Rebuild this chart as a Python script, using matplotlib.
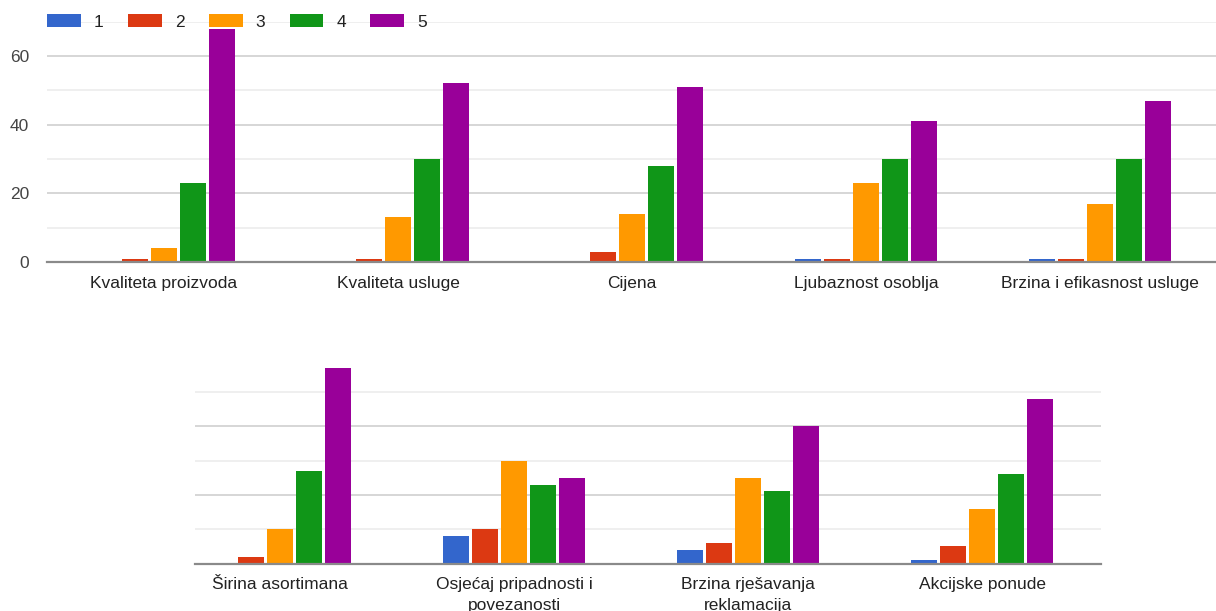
import numpy as np
import matplotlib
matplotlib.use("Agg")
import matplotlib.pyplot as plt
from matplotlib.patches import Patch

plt.rcParams["font.family"] = ["Liberation Sans", "DejaVu Sans"]

# ---- data ----
SERIES = ["1", "2", "3", "4", "5"]
COLORS = ["#3366cc", "#dc3912", "#ff9900", "#109618", "#990099"]

TOP_CATS = ["Kvaliteta proizvoda", "Kvaliteta usluge", "Cijena",
            "Ljubaznost osoblja", "Brzina i efikasnost usluge"]
top_1 = [0, 0, 0, 1, 1]
top_2 = [1, 1, 3, 1, 1]
top_3 = [4, 13, 14, 23, 17]
top_4 = [23, 30, 28, 30, 30]
top_5 = [68, 52, 51, 41, 47]

BOT_CATS = ["Širina asortimana", "Osjećaj pripadnosti i\npovezanosti",
            "Brzina rješavanja\nreklamacija", "Akcijske ponude"]
bot_1 = [0, 8, 4, 1]
bot_2 = [2, 10, 6, 5]
bot_3 = [10, 30, 25, 16]
bot_4 = [27, 23, 21, 26]
bot_5 = [57, 25, 40, 48]

W, H = 1216, 611
fig = plt.figure(figsize=(W / 100, H / 100), dpi=100)

PITCH = 0.124
BAR_W = 0.114
TXT = "#222222"
FS = 12.5


def draw(ax, cats, series_vals):
    x = np.arange(len(cats))
    for k, vals in enumerate(series_vals):
        ax.bar(x + (k - 2) * PITCH, vals, width=BAR_W, color=COLORS[k],
               zorder=3, linewidth=0)
    ax.set_xticks(x)
    ax.set_xticklabels(cats, fontsize=FS, color=TXT, linespacing=1.45)
    ax.tick_params(axis="x", length=0, pad=10)
    ax.set_yticks([0, 20, 40, 60])
    ax.set_yticks([10, 30, 50, 70], minor=True)
    ax.grid(axis="y", which="major", color="#cccccc", lw=1.1, zorder=0)
    ax.grid(axis="y", which="minor", color="#ebebeb", lw=1.1, zorder=0)
    ax.tick_params(axis="y", which="both", length=0)
    for s in ["top", "right", "left"]:
        ax.spines[s].set_visible(False)
    ax.spines["bottom"].set_color("#8a8a8a")
    ax.spines["bottom"].set_linewidth(1.6)
    ax.spines["bottom"].set_zorder(4)


# ---- top panel ----
ax1 = fig.add_axes([47 / W, 1 - 262 / H, 1170 / W, 240.3 / H])
draw(ax1, TOP_CATS, [top_1, top_2, top_3, top_4, top_5])
ax1.set_xlim(-0.5, 4.5)
ax1.set_ylim(0, 70)
ax1.set_yticklabels(["0", "20", "40", "60"], fontsize=FS, color="#444444")
ax1.tick_params(axis="y", pad=13)

# ---- bottom panel ----
ax2 = fig.add_axes([195 / W, 1 - 563.5 / H, 906 / W, 199 / H])
draw(ax2, BOT_CATS, [bot_1, bot_2, bot_3, bot_4, bot_5])
ax2.set_xlim(-0.363, 3.508)
ax2.set_ylim(0, 58)
ax2.set_yticklabels([])
ax2.tick_params(axis="x", pad=10)

# ---- legend ----
handles = [Patch(facecolor=c, edgecolor="none") for c in COLORS]
fig.legend(handles, SERIES, loc="center left",
           bbox_to_anchor=(47 / W, 1 - 22 / H), ncol=5, frameon=False,
           fontsize=FS, handlelength=1.95, handleheight=0.8,
           handletextpad=0.75, columnspacing=1.4, borderpad=0,
           borderaxespad=0, labelcolor=TXT)

fig.savefig("out.png", dpi=100, facecolor="white")
